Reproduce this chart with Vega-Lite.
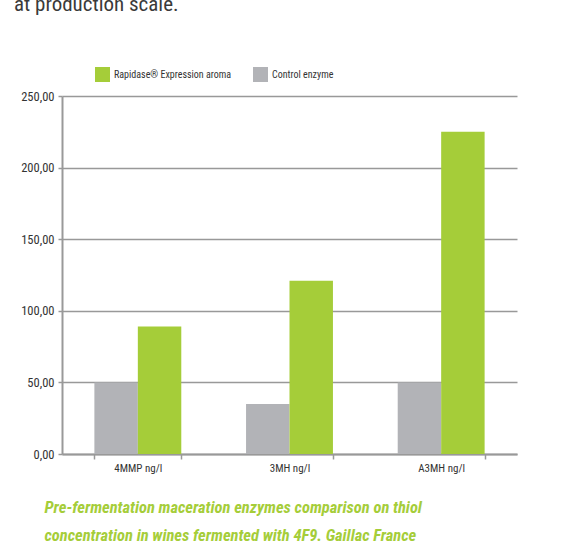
{
  "$schema": "https://vega.github.io/schema/vega-lite/v6.json",
  "autosize": {"type": "none"},
  "width": 455,
  "height": 358,
  "padding": {"left": 62, "top": 96, "right": 54, "bottom": 103},
  "background": "white",
  "title": {
    "text": "at production scale.",
    "anchor": "start",
    "frame": "group",
    "dx": -48,
    "offset": 35,
    "baseline": "alphabetic",
    "font": "'Liberation Sans Narrow', 'Arial Narrow', 'Roboto Condensed', 'Noto Sans Condensed', 'Open Sans Condensed', 'DejaVu Sans Condensed', sans-serif",
    "fontSize": 21,
    "fontWeight": "normal",
    "color": "#3a3a3a"
  },
  "data": {
    "values": [
      {"compound": "4MMP ng/l", "enzyme": "Control enzyme", "value": 50},
      {"compound": "4MMP ng/l", "enzyme": "Rapidase® Expression aroma", "value": 89},
      {"compound": "3MH ng/l", "enzyme": "Control enzyme", "value": 35},
      {"compound": "3MH ng/l", "enzyme": "Rapidase® Expression aroma", "value": 121},
      {"compound": "A3MH ng/l", "enzyme": "Control enzyme", "value": 50},
      {"compound": "A3MH ng/l", "enzyme": "Rapidase® Expression aroma", "value": 225}
    ]
  },
  "mark": {"type": "bar"},
  "encoding": {
    "x": {
      "field": "compound",
      "type": "nominal",
      "sort": ["4MMP ng/l", "3MH ng/l", "A3MH ng/l"],
      "scale": {"paddingInner": 0.427, "paddingOuter": 0.2135},
      "axis": {
        "labelAngle": 0,
        "labelFont": "'Liberation Sans Narrow', 'Arial Narrow', 'Roboto Condensed', 'Noto Sans Condensed', 'Open Sans Condensed', 'DejaVu Sans Condensed', sans-serif",
        "labelFontSize": 11,
        "labelColor": "#333333",
        "labelPadding": 3,
        "tickBand": "extent",
        "tickSize": 5,
        "tickColor": "#999999",
        "tickWidth": 1.5,
        "domainColor": "#999999",
        "domainWidth": 2,
        "grid": false,
        "title": ["Pre-fermentation maceration enzymes comparison on thiol", "concentration in wines fermented with 4F9. Gaillac France"],
        "titleFont": "'Liberation Sans Narrow', 'Arial Narrow', 'Roboto Condensed', 'Noto Sans Condensed', 'Open Sans Condensed', 'DejaVu Sans Condensed', sans-serif",
        "titleFontStyle": "italic",
        "titleFontWeight": "bold",
        "titleFontSize": 16.5,
        "titleColor": "#a5cd39",
        "titleAnchor": "start",
        "titleAlign": "left",
        "titleBaseline": "alphabetic",
        "titleX": -18,
        "titleY": 58,
        "titleLineHeight": 28
      }
    },
    "xOffset": {
      "field": "enzyme",
      "sort": ["Control enzyme", "Rapidase® Expression aroma"],
      "scale": {"paddingInner": 0, "paddingOuter": 0}
    },
    "y": {
      "field": "value",
      "type": "quantitative",
      "scale": {"domain": [0, 250]},
      "axis": {
        "values": [0, 50, 100, 150, 200, 250],
        "labelExpr": "replace(format(datum.value, '.2f'), '.', ',')",
        "labelFont": "'Liberation Sans Narrow', 'Arial Narrow', 'Roboto Condensed', 'Noto Sans Condensed', 'Open Sans Condensed', 'DejaVu Sans Condensed', sans-serif",
        "labelFontSize": 12.5,
        "labelColor": "#333333",
        "labelPadding": 4,
        "tickSize": 4,
        "tickColor": "#999999",
        "tickWidth": 1.5,
        "domainColor": "#999999",
        "domainWidth": 2,
        "gridColor": "#999999",
        "gridWidth": 1.5,
        "title": null
      }
    },
    "color": {
      "field": "enzyme",
      "type": "nominal",
      "scale": {
        "domain": ["Rapidase® Expression aroma", "Control enzyme"],
        "range": ["#a5cd39", "#b2b3b7"]
      },
      "legend": {
        "orient": "none",
        "legendX": 33,
        "legendY": -29,
        "direction": "horizontal",
        "title": null,
        "symbolType": "square",
        "symbolSize": 225,
        "symbolStrokeWidth": 0,
        "symbolOpacity": 1,
        "labelFont": "'Liberation Sans Narrow', 'Arial Narrow', 'Roboto Condensed', 'Noto Sans Condensed', 'Open Sans Condensed', 'DejaVu Sans Condensed', sans-serif",
        "labelFontSize": 10,
        "labelLimit": 300,
        "labelColor": "#333333",
        "labelOffset": 4,
        "columnPadding": 21,
        "padding": 0
      }
    }
  },
  "config": {
    "view": {"stroke": null}
  }
}
